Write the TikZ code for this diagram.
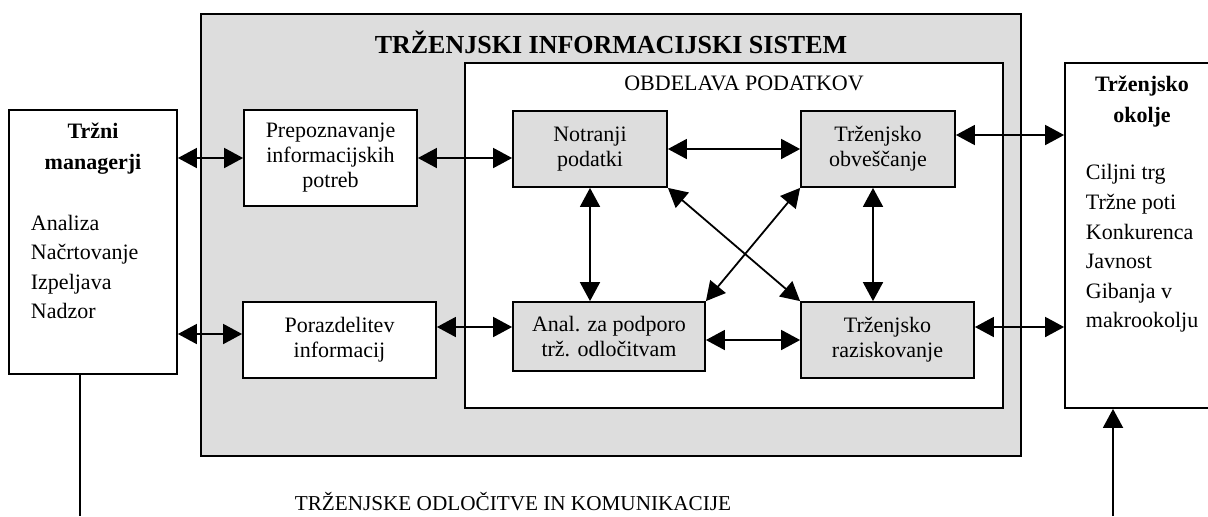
\documentclass[tikz,border=0pt]{standalone}
\usepackage{fontspec}
\setmainfont{Liberation Serif}
\usetikzlibrary{arrows.meta,positioning}
\definecolor{mygray}{RGB}{221,221,221}

\begin{document}
\begin{tikzpicture}[x=0.5pt,y=-0.5pt,line width=0.9pt,
  wbox/.style={draw,fill=white,inner sep=0pt,align=center,
    font=\fontsize{11}{12.5}\selectfont},
  gbox/.style={wbox,fill=mygray},
  lbl/.style={inner sep=0pt,align=left,font=\fontsize{11}{14.8}\selectfont},
  hlbl/.style={inner sep=0pt,align=center,font=\bfseries\fontsize{11}{15.5}\selectfont},
  dbl/.style={{Triangle[length=9.5pt,width=10pt]}-{Triangle[length=9.5pt,width=10pt]}},
  sgl/.style={-{Triangle[length=9.5pt,width=10pt]}}]

  \useasboundingbox (0,0) rectangle (1208,516);

  \node[gbox,minimum width=410pt,minimum height=221pt] (sys) at (611,235) {};
  \node[font=\bfseries\fontsize{13}{15}\selectfont,inner sep=0pt] (systitle) at (611,42)
    {TRŽENJSKI INFORMACIJSKI SISTEM};
  \node[wbox,minimum width=269pt,minimum height=172.5pt] (obd) at (734,235.5) {};
  \node[font=\fontsize{11}{12.5}\selectfont,inner sep=0pt] (obdtitle) at (744,83)
    {OBDELAVA PODATKOV};

  \node[wbox,minimum width=84pt,minimum height=132pt] (mgr) at (93,242) {};
  \node[hlbl] (mgrhead) at (93,149) {Tržni\\managerji};
  \node[lbl,anchor=west] (mgrlist) at (30,267) {Analiza\\Načrtovanje\\Izpeljava\\Nadzor};

  \node[wbox,minimum width=86.5pt,minimum height=48pt] (prep) at (330.5,158)
    {Prepoznavanje\\informacijskih\\potreb};
  \node[wbox,minimum width=96.5pt,minimum height=38pt] (poraz) at (339.5,340)
    {Porazdelitev\\informacij};

  \node[gbox,minimum width=77pt,minimum height=38pt] (notr) at (590,149) {Notranji\\podatki};
  \node[gbox,minimum width=96pt,minimum height=34.5pt] (anal) at (609,336.5)
    {Anal. za podporo\\trž. odločitvam};
  \node[gbox,minimum width=77pt,minimum height=38pt] (obv) at (878,149) {Trženjsko\\obveščanje};
  \node[gbox,minimum width=86.5pt,minimum height=38pt] (raz) at (887.5,340)
    {Trženjsko\\raziskovanje};

  \node[wbox,minimum width=77pt,minimum height=172.5pt] (env) at (1142,235.5) {};
  \node[hlbl] (envhead) at (1142,102) {Trženjsko\\okolje};
  \node[lbl,anchor=west] (envlist) at (1085,248.5)
    {Ciljni trg\\Tržne poti\\Konkurenca\\Javnost\\Gibanja v\\makrookolju};

  \node[font=\fontsize{10.6}{12}\selectfont,inner sep=0pt] (decnote) at (513,502)
    {TRŽENJSKE ODLOČITVE IN KOMUNIKACIJE};

  \coordinate (pw) at ([yshift=3pt]poraz.west);
  \coordinate (pa) at ([yshift=6.5pt]poraz.east);
  \coordinate (os) at ([xshift=-2.5pt]obv.south);
  \coordinate (oe) at ([yshift=7pt]obv.east);
  \coordinate (re) at ([yshift=6.5pt]raz.east);
  \coordinate (envfeed) at (1113,516);
  \coordinate (mgrfeed) at (80,516);

  \draw[dbl] (mgr.east |- prep.west) -- (prep.west);
  \draw[dbl] (pw -| mgr.east) -- (pw);
  \draw[dbl] (prep.east) -- (prep.east -| notr.west);
  \draw[dbl] (pa) -- (pa -| anal.west);
  \draw[dbl] (notr.east) -- (obv.west);
  \draw[dbl] (anal.east |- raz.west) -- (raz.west);
  \draw[dbl] (notr.south) -- (notr.south |- anal.north);
  \draw[dbl] (os) -- (os |- raz.north);
  \draw[dbl] (notr.south east) -- (raz.north west);
  \draw[dbl] (obv.south west) -- (anal.north east);

  % links to the environment
  \draw[dbl] (oe) -- (oe -| env.west);
  \draw[dbl] (re) -- (re -| env.west);
  \draw[sgl] (envfeed) -- (envfeed |- env.south);
  \draw (mgr.south -| mgrfeed) -- (mgrfeed);

\end{tikzpicture}
\end{document}
